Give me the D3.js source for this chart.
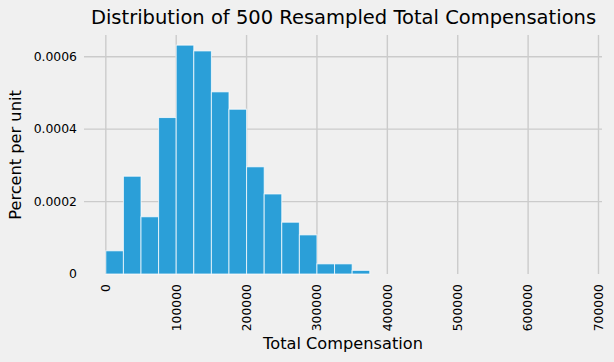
<!DOCTYPE html>
<html>
<head>
<meta charset="utf-8">
<script src="https://cdn.jsdelivr.net/npm/d3@7"></script>
<style>
  html, body { margin: 0; padding: 0; background: #f0f0f0; }
  svg { display: block; font-family: "DejaVu Sans", sans-serif; }
</style>
</head>
<body>
<div id="chart"></div>
<script>
'use strict'

// histogram bins (left edges, width 25000) and heights
const binEdges = [0, 25000, 50000, 75000, 100000, 125000, 150000, 175000, 200000,
  225000, 250000, 275000, 300000, 325000, 350000, 375000, 400000]
const binHeights = [0.000064, 0.000270, 0.000158, 0.000432, 0.000632, 0.000616,
  0.000503, 0.000455, 0.000296, 0.000221, 0.000143, 0.000108, 0.000028, 0.000028,
  0.000010, 0]

const xTicks = [0, 100000, 200000, 300000, 400000, 500000, 600000, 700000]
const yTicks = [0, 0.0002, 0.0004, 0.0006]

const titleText = "Distribution of 500 Resampled Total Compensations"
const xLabel = "Total Compensation"
const yLabel = "Percent per unit"

const width = 614, height = 362

const bins = binHeights.map((h, i) => ({x0: binEdges[i], x1: binEdges[i + 1], h: h}))

const svg = d3.select("#chart").append("svg")
  .attr("width", width)
  .attr("height", height)

svg.append("rect")
  .attr("width", width)
  .attr("height", height)
  .attr("fill", "#f0f0f0")

const x = d3.scaleLinear().domain([-31000, 705000]).range([84, 602])
const y = d3.scaleLinear().domain([0, 0.00066]).range([274, 35])

// grid
const grid = svg.append("g")
  .attr("stroke", "#cbcbcb")
  .attr("stroke-width", 1.4)

grid.selectAll(".vgrid")
  .data(xTicks)
  .enter().append("line")
    .attr("x1", d => x(d)).attr("x2", d => x(d))
    .attr("y1", y.range()[1]).attr("y2", y.range()[0])

grid.selectAll(".hgrid")
  .data(yTicks.filter(d => d > 0))
  .enter().append("line")
    .attr("x1", x.range()[0]).attr("x2", x.range()[1])
    .attr("y1", d => y(d)).attr("y2", d => y(d))

// bars
svg.append("g")
  .selectAll("rect")
  .data(bins)
  .enter().append("rect")
    .attr("x", d => x(d.x0))
    .attr("width", d => x(d.x1) - x(d.x0))
    .attr("y", d => y(d.h))
    .attr("height", d => y(0) - y(d.h))
    .attr("fill", "#2b9fd8")
    .attr("stroke", "#ffffff")
    .attr("stroke-opacity", 0.75)
    .attr("stroke-width", 1)

// y tick labels
svg.append("g")
  .selectAll("text")
  .data(yTicks)
  .enter().append("text")
    .attr("x", 77)
    .attr("y", d => y(d))
    .attr("dy", "0.35em")
    .attr("text-anchor", "end")
    .attr("font-size", 12.4)
    .attr("fill", "#000")
    .text(d => d === 0 ? "0" : d3.format(".4f")(d))

// x tick labels, rotated
svg.append("g")
  .selectAll("text")
  .data(xTicks)
  .enter().append("text")
    .attr("transform", d => "translate(" + x(d) + ",284) rotate(-90)")
    .attr("dy", "0.35em")
    .attr("text-anchor", "end")
    .attr("font-size", 12.4)
    .attr("fill", "#000")
    .text(d => String(d))

// axis labels and title
svg.append("text")
  .attr("x", 343)
  .attr("y", 348.5)
  .attr("text-anchor", "middle")
  .attr("font-size", 16.2)
  .attr("fill", "#000")
  .text(xLabel)

svg.append("text")
  .attr("transform", "translate(21,155) rotate(-90)")
  .attr("text-anchor", "middle")
  .attr("font-size", 16.2)
  .attr("fill", "#000")
  .text(yLabel)

svg.append("text")
  .attr("x", 343.5)
  .attr("y", 24)
  .attr("text-anchor", "middle")
  .attr("font-size", 19.5)
  .attr("fill", "#000")
  .text(titleText)
</script>
</body>
</html>
